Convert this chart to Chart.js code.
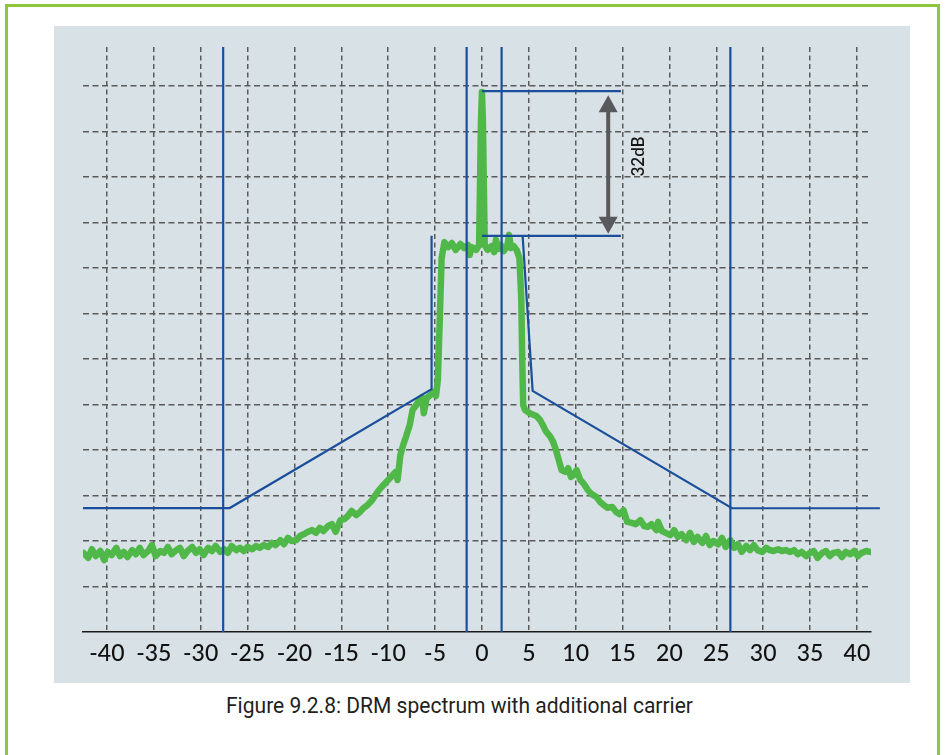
<!DOCTYPE html>
<html><head><meta charset="utf-8">
<script src="https://cdn.jsdelivr.net/npm/chart.js@4"></script>
<style>
html,body{margin:0;padding:0;background:#fff;width:946px;height:755px;overflow:hidden}
#frame{position:absolute;left:5px;top:4px;width:929px;height:800px;border:3px solid #8dc63f;box-sizing:content-box}
#panel{position:absolute;left:54px;top:26px;width:856px;height:657px;background:#d8e2e6}
#wrap{position:absolute;left:54px;top:26px;width:856px;height:657px}
#cap{position:absolute;left:226px;top:695px;font-family:Roboto,"Liberation Sans",sans-serif;font-weight:400;font-size:22px;line-height:22px;color:#231f20;white-space:nowrap;transform-origin:0 0}
</style></head>
<body>
<div id="frame"></div>
<div id="panel"></div>
<div id="wrap"><canvas id="c" width="856" height="657"></canvas></div>
<div id="cap">Figure 9.2.8: DRM spectrum with additional carrier</div>
<script>
// ---- data (frequency offset in kHz, level in dB above axis) ----
const xTickValues = [-40,-35,-30,-25,-20,-15,-10,-5,0,5,10,15,20,25,30,35,40];
const yGridValues = [10,20,30,40,50,60,70,80,90,100,110,120];

const spectrumFreq = [
-42.5,-42.0,-41.6,-41.2,-40.7,-40.3,-39.9,-39.5,-39.0,-38.6,-38.2,-37.8,-37.3,-36.9,-36.5,-36.1,-35.6,-35.2,-34.8,-34.3,
-33.9,-33.5,-33.1,-32.6,-32.2,-31.8,-31.4,-30.9,-30.5,-30.1,-29.7,-29.2,-28.8,-28.4,-27.9,-27.5,-27.1,-26.7,-26.2,-25.8,
-25.4,-25.0,-24.5,-24.1,-23.7,-23.3,-22.8,-22.4,-22.0,-21.5,-21.1,-20.7,-20.3,-19.8,-19.4,-19.0,-18.6,-18.1,-17.7,-17.3,
-16.9,-16.4,-16.0,-15.6,-15.1,-14.7,-14.3,-13.9,-13.4,-13.0,-12.6,-12.2,-11.7,-11.3,-10.9,-10.5,-10.0,-9.6,-9.2,-9.0,
-8.7,-8.4,-8.1,-7.7,-7.4,-7.0,-6.7,-6.4,-6.2,-5.9,-5.5,-5.2,-4.9,-4.7,-4.5,-4.3,-4.0,-3.6,-3.2,-2.8,
-2.3,-1.9,-1.5,-1.3,-1.1,-0.6,-0.3,-0.1,0.0,0.1,0.3,0.6,1.0,1.3,1.5,1.7,2.0,2.3,2.7,2.9,
3.1,3.4,3.7,4.0,4.2,4.3,4.4,4.6,5.1,5.8,6.2,6.5,6.8,7.3,7.6,7.9,8.2,8.5,8.9,9.2,
9.5,9.8,10.1,10.5,10.9,11.3,11.7,12.2,12.6,13.0,13.4,13.9,14.3,14.7,15.1,15.5,16.0,16.4,16.9,17.3,
17.7,18.1,18.6,18.8,19.2,19.6,20.1,20.5,20.9,21.3,21.8,22.2,22.6,23.0,23.5,23.9,24.3,24.7,25.2,25.6,
26.0,26.5,26.9,27.3,27.7,28.2,28.6,29.0,29.4,29.9,30.3,30.7,31.1,31.6,32.0,32.4,32.9,33.3,33.7,34.1,
34.6,35.0,35.4,35.8,36.3,36.7,37.1,37.5,38.0,38.4,38.8,39.3,39.7,40.1,40.5,41.0,41.4];
const spectrumLevel = [
17.4,16.3,18.2,16.7,17.8,15.8,17.6,16.9,18.5,16.7,17.6,16.5,18.0,17.1,18.5,16.9,17.8,19.1,16.7,17.8,
17.4,18.7,17.1,18.0,18.5,16.7,17.8,18.7,17.4,18.2,16.9,18.5,17.8,18.9,17.6,18.2,17.4,18.9,18.0,18.5,
17.8,18.7,18.2,18.9,18.5,19.1,18.7,19.6,19.1,20.2,19.3,20.7,20.0,20.2,21.1,21.5,22.0,22.4,21.8,22.9,
22.2,23.3,23.7,22.0,24.6,24.8,25.5,26.6,25.7,26.4,27.3,27.9,29.0,30.3,31.4,32.3,33.4,34.3,35.2,33.4,
38.9,41.1,42.9,45.5,48.8,49.9,51.0,51.6,48.1,51.4,52.1,52.7,51.9,55.4,68.6,82.2,85.7,84.6,85.5,84.0,
85.3,84.4,85.1,82.9,84.6,84.0,85.1,112.5,118.7,112.5,85.1,84.0,84.8,83.5,86.2,84.2,85.1,83.7,84.8,87.3,
84.4,84.8,84.0,82.2,73.0,59.8,49.9,48.8,48.1,47.5,46.6,45.5,44.2,42.9,41.8,40.0,37.8,35.6,35.2,36.0,
34.1,34.5,35.6,33.4,32.5,31.2,30.3,29.7,28.6,27.9,27.3,27.5,26.4,25.9,26.8,24.2,24.0,23.7,24.6,23.3,
23.1,23.7,22.4,24.2,22.2,21.8,21.3,22.4,20.9,21.5,20.2,21.8,19.8,20.9,19.6,21.1,19.1,20.0,19.3,20.7,
18.7,20.2,18.5,19.3,17.6,18.9,18.0,19.1,18.0,17.6,18.5,18.0,17.8,18.2,17.8,18.0,17.6,18.0,17.1,17.6,
16.7,17.4,17.8,16.3,17.4,17.8,16.7,17.4,17.6,16.5,17.6,17.1,17.8,16.7,17.4,17.8,17.6];

// spectrum mask
const maskLeftFreq  = [-42.55,-26.9,-5.37,-5.37];
const maskLeftLevel = [27.25,27.25,53.4,87.1];
const maskRightFreq  = [4.34,5.41,26.67,42.45];
const maskRightLevel = [87.1,53.0,27.2,27.2];

// full-height vertical markers (kHz)
const markerFreqs = [-27.6,-1.63,2.1,26.5];

// carrier / DRM reference levels
const carrierLevel = 118.9;
const drmLevel = 87.1;
const refLineFreqs = [0, 14.83];
const arrowFreq = 13.47;
const arrowLabel = "32dB";
const captionText = "Figure 9.2.8: DRM spectrum with additional carrier";

const X_MIN = -42.55, X_MAX = 41.5, Y_MIN = 0, Y_MAX = 128.6;

// ---- build chart ----
const BLUE = '#1b4f9c';
const pts = (xs, ys) => xs.map((v,i)=>({x:v, y:ys[i]}));
const blue = (data) => ({data, borderColor:BLUE, borderWidth:2.2, pointRadius:0, showLine:true, order:1, clip:false, tension:0});

const datasets = [];
datasets.push({data: pts(spectrumFreq, spectrumLevel), borderColor:'#50b848', borderWidth:6.5,
  pointRadius:0, showLine:true, order:5, tension:0, borderJoinStyle:'round', borderCapStyle:'round'});
datasets.push(blue(pts(maskLeftFreq, maskLeftLevel)));
datasets.push(blue(pts(maskRightFreq, maskRightLevel)));
markerFreqs.forEach(f => datasets.push(blue([{x:f,y:Y_MIN},{x:f,y:Y_MAX}])));
datasets.push(blue(refLineFreqs.map(f=>({x:f,y:carrierLevel}))));
datasets.push(blue(refLineFreqs.map(f=>({x:f,y:drmLevel}))));

const annot = {
  id:'annot',
  afterDatasetsDraw(chart){
    const {ctx, scales:{x,y}} = chart;
    const ax = x.getPixelForValue(arrowFreq);
    const yt = y.getPixelForValue(carrierLevel) + 4;
    const yb = y.getPixelForValue(drmLevel) - 2;
    const hl = 17, hw = 9.5;
    ctx.save();
    ctx.fillStyle = '#58595b';
    ctx.fillRect(ax-2, yt+hl-1, 4, (yb-hl+1)-(yt+hl-1));
    ctx.beginPath(); ctx.moveTo(ax, yt); ctx.lineTo(ax+hw, yt+hl); ctx.lineTo(ax-hw, yt+hl); ctx.closePath(); ctx.fill();
    ctx.beginPath(); ctx.moveTo(ax, yb); ctx.lineTo(ax+hw, yb-hl); ctx.lineTo(ax-hw, yb-hl); ctx.closePath(); ctx.fill();
    ctx.translate(ax+30, (yt+yb)/2 - 8);
    ctx.rotate(-Math.PI/2);
    ctx.fillStyle = '#151515';
    ctx.font = '600 17px Lato, "Open Sans", sans-serif';
    ctx.textAlign = 'center'; ctx.textBaseline = 'middle';
    ctx.fillText(arrowLabel, 0, 0);
    ctx.restore();
  }
};

new Chart(document.getElementById('c'), {
  type:'scatter',
  data:{datasets},
  options:{
    responsive:false, animation:false, devicePixelRatio:1,
    layout:{padding:{left:29, top:21, right:39, bottom:0}},
    plugins:{legend:{display:false}, tooltip:{enabled:false}},
    scales:{
      x:{type:'linear', min:X_MIN, max:X_MAX,
        afterBuildTicks:s=>{s.ticks = xTickValues.map(v=>({value:v}));},
        afterFit:s=>{s.height = 51;},
        ticks:{autoSkip:false, maxRotation:0, minRotation:0, padding:8, color:'#111',
          font:{family:'Lato, "Open Sans", sans-serif', size:23, weight:'500'}, callback:v=>String(v)},
        grid:{color:'#5a5a5a', lineWidth:1.5, drawTicks:false},
        border:{display:true, color:'#1a1a1a', width:1.5, dash:[5,3.5]}
      },
      y:{type:'linear', min:Y_MIN, max:Y_MAX,
        afterBuildTicks:s=>{s.ticks = yGridValues.map(v=>({value:v}));},
        afterFit:s=>{s.width = 0;},
        ticks:{display:false},
        grid:{color:'#5a5a5a', lineWidth:1.5, drawTicks:false},
        border:{display:false, dash:[6,3.5]}
      }
    }
  },
  plugins:[annot]
});

// caption sizing
const cap = document.getElementById('cap');
cap.textContent = captionText;
function fitCap(){
  cap.style.transform = 'none';
  const w = cap.getBoundingClientRect().width;
  cap.style.transform = 'scaleX(' + (467 / w) + ')';
}
fitCap();
if (document.fonts && document.fonts.ready) document.fonts.ready.then(fitCap);
</script>
</body></html>
